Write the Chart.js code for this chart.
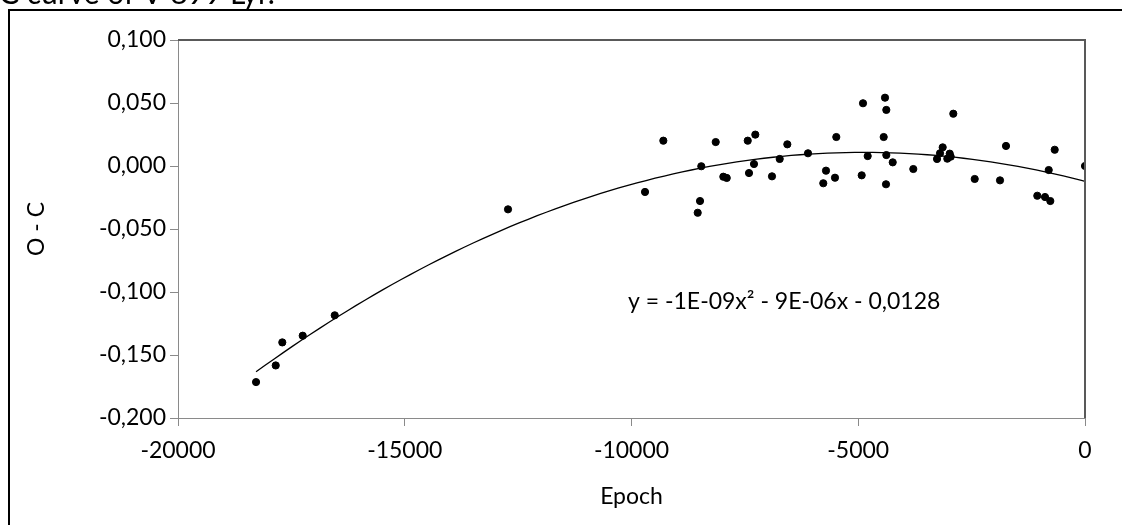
<!DOCTYPE html>
<html>
<head>
<meta charset="utf-8">
<script src="https://cdn.jsdelivr.net/npm/chart.js@4.4.0/dist/chart.umd.min.js"></script>
<style>
  html, body { margin: 0; padding: 0; background: #fff; overflow: hidden; }
  canvas { display: block; }
</style>
</head>
<body>
<canvas id="chart" width="1122" height="525"></canvas>
<script>
// observed epochs and O-C residuals
const epochs = [-18279, -17845, -17700, -17250, -16544, -12723, -9702, -9298, -8540, -8489,
  -8461, -8143, -7975, -7900, -7437, -7409, -7299, -7270, -6902, -6732,
  -6564, -6108, -5771, -5711, -5513, -5484, -4924, -4895, -4792, -4439,
  -4410, -4381, -4381, -4388, -4240, -3786, -3263, -3197, -3138, -3036,
  -2983, -2961, -2904, -2432, -1874, -1742, -1052, -882, -800, -765,
  -668, 0];
const oc = [-0.1715, -0.1583, -0.140, -0.1347, -0.1185, -0.0344, -0.0206, 0.0201, -0.0371, -0.0278,
  -0.0002, 0.0190, -0.0085, -0.0095, 0.0201, -0.0056, 0.0016, 0.0249, -0.0082, 0.0056,
  0.0172, 0.0101, -0.0137, -0.0037, -0.0093, 0.0230, -0.0074, 0.0498, 0.0079, 0.0230,
  0.0542, 0.0445, 0.0087, -0.0145, 0.0029, -0.0024, 0.0056, 0.0101, 0.0148, 0.0058,
  0.0098, 0.0074, 0.0415, -0.0103, -0.0114, 0.0159, -0.0236, -0.0246, -0.0032, -0.0278,
  0.0129, 0.0000];
const xTicks = [-20000, -15000, -10000, -5000, 0];
const yTicks = [-0.2, -0.15, -0.1, -0.05, 0, 0.05, 0.1];
const titleText = 'C curve of V 899 Lyr.';
const equationText = 'y = -1E-09x² - 9E-06x - 0,0128';

// quadratic least-squares trendline (as Excel does)
function quadFit(xs, ys) {
  const s = [0, 0, 0, 0, 0], t = [0, 0, 0];
  xs.forEach((x, i) => {
    const u = x / 1000;
    for (let k = 0; k < 5; k++) s[k] += Math.pow(u, k);
    for (let k = 0; k < 3; k++) t[k] += ys[i] * Math.pow(u, k);
  });
  const m = [[s[0], s[1], s[2], t[0]], [s[1], s[2], s[3], t[1]], [s[2], s[3], s[4], t[2]]];
  for (let i = 0; i < 3; i++) {
    for (let j = i + 1; j < 3; j++) {
      const f = m[j][i] / m[i][i];
      for (let k = i; k < 4; k++) m[j][k] -= f * m[i][k];
    }
  }
  const c = [0, 0, 0];
  for (let i = 2; i >= 0; i--) {
    let v = m[i][3];
    for (let k = i + 1; k < 3; k++) v -= m[i][k] * c[k];
    c[i] = v / m[i][i];
  }
  return (x) => c[0] + c[1] * (x / 1000) + c[2] * (x / 1000) * (x / 1000);
}

const fit = quadFit(epochs, oc);
const xMin = Math.min(...epochs);
const trend = [];
for (let x = xMin; x < 0; x += 200) trend.push({ x: x, y: fit(x) });
trend.push({ x: 0, y: fit(0) });

const points = epochs.map((x, i) => ({ x: x, y: oc[i] }));

const FONT = 'Lato, sans-serif';
const AXIS = '#8a8a8a';

const frame = {
  id: 'frame',
  beforeDraw(chart) {
    const ctx = chart.ctx;
    ctx.save();
    ctx.fillStyle = '#000';
    ctx.fillRect(8, 9, 2, 525);
    ctx.fillRect(8, 9, 1122, 2);
    // page title, cut off by the top edge
    ctx.font = '30px ' + FONT;
    ctx.textBaseline = 'alphabetic';
    ctx.textAlign = 'left';
    ctx.fillText(titleText, -1, 4);
    ctx.restore();
  },
  afterDatasetsDraw(chart) {
    const ctx = chart.ctx, a = chart.chartArea;
    ctx.save();
    ctx.strokeStyle = '#595959';
    ctx.lineWidth = 2;
    ctx.beginPath();
    ctx.moveTo(a.left, a.top);
    ctx.lineTo(a.right, a.top);
    ctx.lineTo(a.right, a.bottom);
    ctx.stroke();
    ctx.fillStyle = '#000';
    ctx.font = '23px ' + FONT;
    ctx.textBaseline = 'middle';
    ctx.fillText(equationText, a.left + 450, a.top + 262);
    ctx.restore();
  }
};

new Chart(document.getElementById('chart'), {
  type: 'scatter',
  data: {
    datasets: [
      {
        label: 'trend',
        type: 'line',
        data: trend,
        borderColor: '#000',
        borderWidth: 1.3,
        pointRadius: 0,
        fill: false,
        order: 2,
      },
      {
        label: 'O - C',
        data: points,
        backgroundColor: '#000',
        borderColor: '#000',
        pointRadius: 3.6,
        pointHoverRadius: 3.6,
        order: 1,
      },
    ],
  },
  options: {
    responsive: false,
    animation: false,
    events: [],
    layout: { padding: { top: 40, right: 37, bottom: 0, left: 0 } },
    plugins: { legend: { display: false }, tooltip: { enabled: false } },
    scales: {
      x: {
        type: 'linear',
        min: -20000,
        max: 0,
        afterFit: (s) => { s.height = 107; },
        afterBuildTicks: (s) => { s.ticks = xTicks.map((v) => ({ value: v })); },
        grid: { drawOnChartArea: false, drawTicks: true, tickLength: 8, color: AXIS },
        border: { color: AXIS, width: 1 },
        ticks: { color: '#000', font: { family: FONT, size: 23 }, padding: 11, maxRotation: 0,
          callback: (v) => String(v) },
        title: { display: true, text: 'Epoch', color: '#000', font: { family: FONT, size: 23 },
          padding: { top: 0, bottom: 15 } },
      },
      y: {
        type: 'linear',
        min: -0.2,
        max: 0.1,
        afterFit: (s) => { s.width = 178; },
        afterBuildTicks: (s) => { s.ticks = yTicks.map((v) => ({ value: v })); },
        grid: { drawOnChartArea: false, drawTicks: true, tickLength: 8, color: AXIS },
        border: { color: AXIS, width: 1 },
        ticks: { color: '#000', font: { family: FONT, size: 23 }, padding: 4,
          callback: (v) => v.toFixed(3).replace('.', ',') },
        title: { display: true, text: 'O - C', color: '#000', font: { family: FONT, size: 23 },
          padding: { top: 23, bottom: 0 } },
      },
    },
  },
  plugins: [frame],
});
</script>
</body>
</html>
